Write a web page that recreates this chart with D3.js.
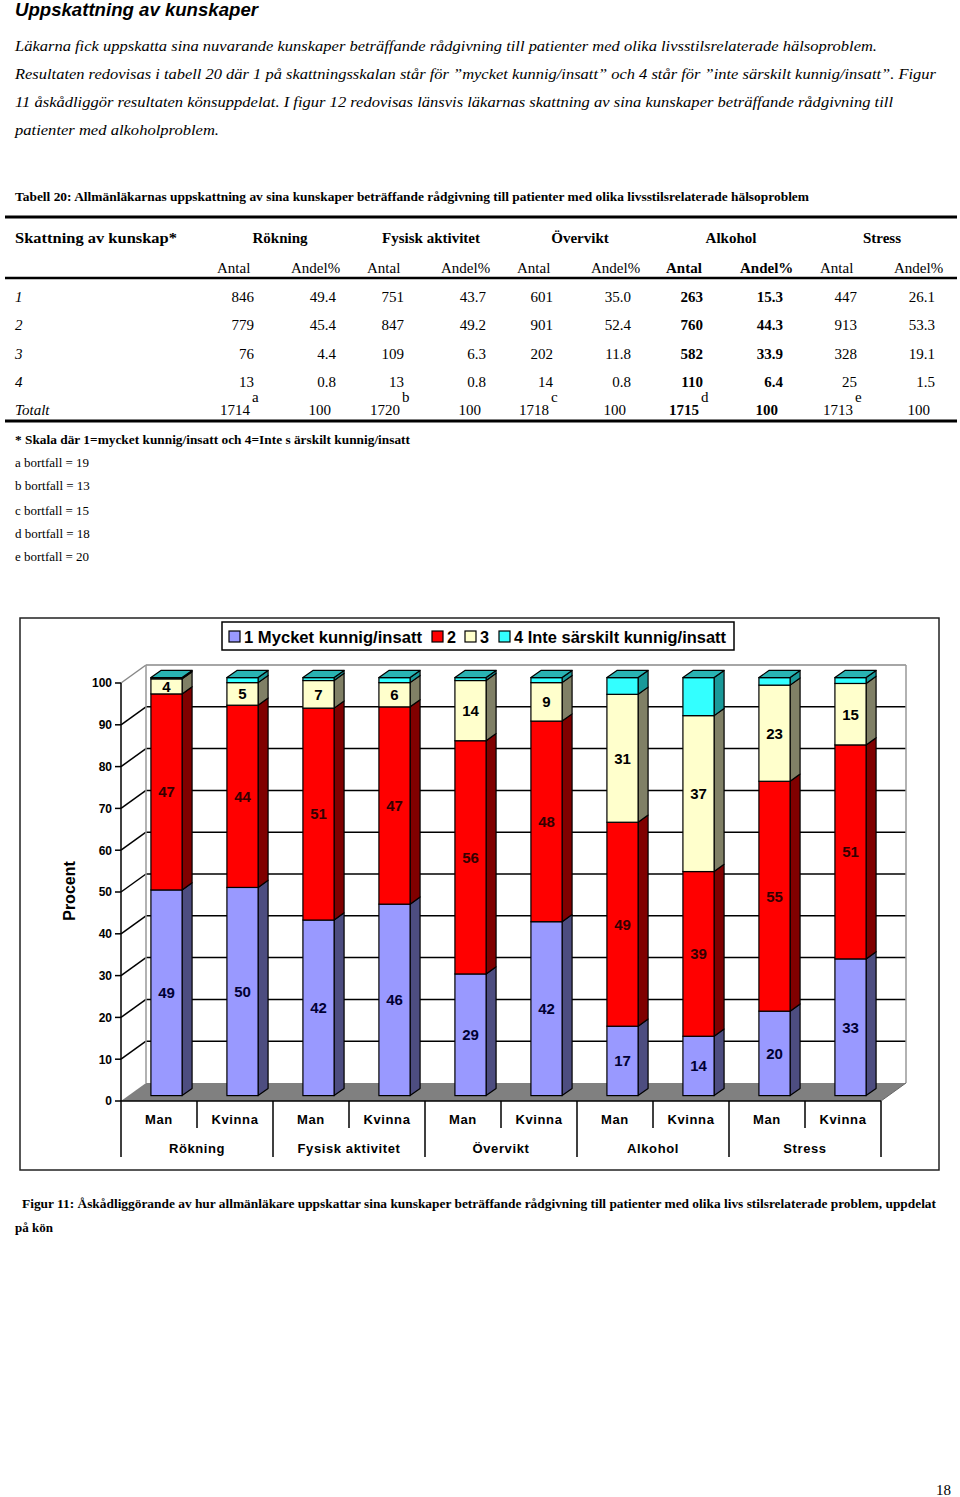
<!DOCTYPE html>
<html lang="sv">
<head>
<meta charset="UTF-8">
<title>Uppskattning av kunskaper</title>
<style>
  * { margin: 0; padding: 0; }
  body { background: #fff; }
  svg { display: block; }
  .serif { font-family: "Liberation Serif", "Times New Roman", serif; }
  .sans { font-family: "Liberation Sans", Arial, sans-serif; }
</style>
</head>
<body>
<script src="https://cdn.jsdelivr.net/npm/d3@7"></script>
<script>
// ---- data ----
var groups = ['Rökning', 'Fysisk aktivitet', 'Övervikt', 'Alkohol', 'Stress'];
var sexes = ['Man', 'Kvinna'];
var seriesNames = ['1 Mycket kunnig/insatt', '2', '3', '4 Inte särskilt kunnig/insatt'];
// percent per bar: Rökning M, K, Fysisk M, K, Övervikt M, K, Alkohol M, K, Stress M, K
var level1 = [49.2, 49.8, 42.0, 45.8, 29.1, 41.6, 16.6, 14.2, 20.2, 32.7];
var level2 = [46.9, 43.6, 50.7, 47.2, 55.8, 48.0, 48.8, 39.4, 55.0, 51.2];
var level3 = [3.6, 5.4, 6.6, 5.8, 14.4, 9.2, 30.6, 37.3, 23.0, 14.7];
var level4 = [0.3, 1.2, 0.7, 1.2, 0.7, 1.2, 4.0, 9.1, 1.8, 1.4];
var yTicks = [0, 10, 20, 30, 40, 50, 60, 70, 80, 90, 100];

// table 20
var antal = [[846, 779, 76, 13], [751, 847, 109, 13], [601, 901, 202, 14], [263, 760, 582, 110], [447, 913, 328, 25]];
var andel = [[49.4, 45.4, 4.4, 0.8], [43.7, 49.2, 6.3, 0.8], [35.0, 52.4, 11.8, 0.8], [15.3, 44.3, 33.9, 6.4], [26.1, 53.3, 19.1, 1.5]];
var totals = [1714, 1720, 1718, 1715, 1713];
var noteLetters = ['a', 'b', 'c', 'd', 'e'];
var bortfall = [19, 13, 15, 18, 20];
var rowLabels = ['1', '2', '3', '4', 'Totalt'];

var W = 960, H = 1497;
var svg = d3.select('body').append('svg').attr('width', W).attr('height', H);
svg.append('rect').attr('width', W).attr('height', H).attr('fill', '#fff');

function txt(x, y, s, o) {
  o = o || {};
  var t = svg.append('text').attr('x', x).attr('y', y).text(s)
    .attr('class', o.sans ? 'sans' : 'serif')
    .attr('font-size', o.size || 15)
    .attr('fill', o.fill || '#000');
  if (o.bold) t.attr('font-weight', 'bold');
  if (o.italic) t.attr('font-style', 'italic');
  if (o.anchor) t.attr('text-anchor', o.anchor);
  if (o.len) t.attr('textLength', o.len).attr('lengthAdjust', 'spacingAndGlyphs');
  return t;
}

// ---- text above ----
txt(15, 16, 'Uppskattning av kunskaper', {sans: true, bold: true, italic: true, size: 18, len: 243});
txt(15, 51, 'Läkarna fick uppskatta sina nuvarande kunskaper beträffande rådgivning till patienter med olika livsstilsrelaterade hälsoproblem.', {italic: true, len: 862});
txt(15, 79, 'Resultaten redovisas i tabell 20 där 1 på skattningsskalan står för ”mycket kunnig/insatt” och 4 står för ”inte särskilt kunnig/insatt”. Figur', {italic: true, len: 921});
txt(15, 107, '11 åskådliggör resultaten könsuppdelat. I figur 12 redovisas länsvis läkarnas skattning av sina kunskaper beträffande rådgivning till', {italic: true, len: 878});
txt(15, 135, 'patienter med alkoholproblem.', {italic: true, len: 204});

// ---- table ----
txt(15, 201, 'Tabell 20: Allmänläkarnas uppskattning av sina kunskaper beträffande rådgivning till patienter med olika livsstilsrelaterade hälsoproblem', {bold: true, size: 13, len: 794});
svg.append('line').attr('x1', 5).attr('x2', 957).attr('y1', 217).attr('y2', 217).attr('stroke', '#000').attr('stroke-width', 3);
svg.append('line').attr('x1', 5).attr('x2', 957).attr('y1', 278).attr('y2', 278).attr('stroke', '#000').attr('stroke-width', 2.5);
svg.append('line').attr('x1', 5).attr('x2', 957).attr('y1', 421).attr('y2', 421).attr('stroke', '#000').attr('stroke-width', 3);

var groupCenters = [280, 431, 580, 731, 882];
var antalLeft = [217, 367, 517, 666, 820];
var andelLeft = [291, 441, 591, 740, 894];
var antalRight = [254, 404, 553, 703, 857];
var andelRight = [336, 486, 631, 783, 935];
var rowBase = [302, 330, 359, 387, 415];

txt(15, 243, 'Skattning av kunskap*', {bold: true, len: 162});
groups.forEach(function (g, i) {
  txt(groupCenters[i], 243, g, {bold: true, anchor: 'middle'});
  var b = i === 3;
  txt(antalLeft[i], 273, 'Antal', {bold: b});
  txt(andelLeft[i], 273, 'Andel%', {bold: b});
});
rowLabels.forEach(function (r, j) {
  txt(15, rowBase[j], r, {italic: true});
});
groups.forEach(function (g, i) {
  var b = i === 3;
  for (var j = 0; j < 4; j++) {
    txt(antalRight[i], rowBase[j], antal[i][j], {anchor: 'end', bold: b});
    txt(andelRight[i], rowBase[j], andel[i][j].toFixed(1), {anchor: 'end', bold: b});
  }
  txt(antalRight[i] - 4, rowBase[4], totals[i], {anchor: 'end', bold: b});
  txt(antalRight[i] - 2, 402, noteLetters[i], {});
  txt(andelRight[i] - 5, rowBase[4], 100, {anchor: 'end', bold: b});
});

txt(15, 444, '* Skala där 1=mycket kunnig/insatt och 4=Inte s ärskilt kunnig/insatt', {bold: true, size: 13, len: 395});
noteLetters.forEach(function (l, i) {
  txt(15, [467, 490, 515, 538, 561][i], l + ' bortfall = ' + bortfall[i], {size: 13});
});

// ---- chart ----
svg.append('rect').attr('x', 20).attr('y', 618).attr('width', 919).attr('height', 552)
  .attr('fill', 'none').attr('stroke', '#222').attr('stroke-width', 1.5);

var x = d3.scaleBand().domain(d3.range(10)).range([121, 881]);
var y = d3.scaleLinear().domain([0, 100]).range([1101, 683]);
var DX = 25, DY = -18;          // full depth offset
var z0 = 0.3, z1 = 0.7;         // bar depth
var hw = x.bandwidth() * 0.205; // half bar width
var x0 = x.range()[0], x1 = x.range()[1];

var chart = svg.append('g');

// floor
chart.append('polygon')
  .attr('points', [[x0, y(0)], [x1, y(0)], [x1 + DX, y(0) + DY], [x0 + DX, y(0) + DY]].join(' '))
  .attr('fill', '#808080');
// back wall gridlines
yTicks.forEach(function (v) {
  if (v === 0) return;
  var c = v === 100 ? '#888' : '#000';
  chart.append('line').attr('x1', x0 + DX).attr('x2', x1 + DX)
    .attr('y1', y(v) + DY).attr('y2', y(v) + DY).attr('stroke', c).attr('stroke-width', 1.5);
  chart.append('line').attr('x1', x0).attr('x2', x0 + DX)
    .attr('y1', y(v)).attr('y2', y(v) + DY).attr('stroke', c).attr('stroke-width', 1.5);
});
chart.append('line').attr('x1', x0 + DX).attr('x2', x0 + DX).attr('y1', y(100) + DY).attr('y2', y(0) + DY)
  .attr('stroke', '#999').attr('stroke-width', 1.5);
chart.append('line').attr('x1', x1 + DX).attr('x2', x1 + DX).attr('y1', y(100) + DY).attr('y2', y(0) + DY)
  .attr('stroke', '#999').attr('stroke-width', 1.5);

// bars
var rows = d3.range(10).map(function (i) {
  return {i: i, a: level1[i], b: level2[i], c: level3[i], d: level4[i]};
});
var keys = ['a', 'b', 'c', 'd'];
var stacked = d3.stack().keys(keys)(rows);
var front = ['#9999ff', '#ff0000', '#ffffcc', '#33ffff'];
var side = ['#4d4d80', '#800000', '#808066', '#1a9999'];
var labelFill = ['#000033', '#330000', '#000', '#000'];
var topFill = '#29b3b3';

d3.range(10).forEach(function (i) {
  var cx = x(i) + x.bandwidth() / 2;
  var xl = cx - hw + z0 * DX, xr = cx + hw + z0 * DX;
  var ox = (z1 - z0) * DX, oy = (z1 - z0) * DY;
  var g = chart.append('g');
  stacked.forEach(function (s, k) {
    var seg = s[i];
    var yb = y(seg[0]) + z0 * DY, yt = y(seg[1]) + z0 * DY;
    g.append('polygon')
      .attr('points', [[xr, yt], [xr + ox, yt + oy], [xr + ox, yb + oy], [xr, yb]].join(' '))
      .attr('fill', side[k]).attr('stroke', '#000').attr('stroke-width', 1.2).attr('stroke-linejoin', 'round');
    g.append('rect').attr('x', xl).attr('y', yt).attr('width', xr - xl).attr('height', yb - yt)
      .attr('fill', front[k]).attr('stroke', '#000').attr('stroke-width', 1.2);
    if (k === stacked.length - 1) {
      g.append('polygon')
        .attr('points', [[xl, yt], [xr, yt], [xr + ox, yt + oy], [xl + ox, yt + oy]].join(' '))
        .attr('fill', topFill).attr('stroke', '#000').attr('stroke-width', 1.2).attr('stroke-linejoin', 'round');
    }
    if (k < 3) {
      g.append('text').attr('class', 'sans').attr('x', (xl + xr) / 2).attr('y', (yt + yb) / 2)
        .attr('dy', '0.36em').attr('text-anchor', 'middle').attr('font-size', 15).attr('font-weight', 'bold')
        .attr('fill', labelFill[k]).text(Math.round(seg[1] - seg[0]));
    }
  });
});

// front axes
chart.append('line').attr('x1', x0).attr('x2', x0).attr('y1', y(100)).attr('y2', 1157).attr('stroke', '#000').attr('stroke-width', 1.5);
chart.append('line').attr('x1', x0).attr('x2', x1).attr('y1', y(0)).attr('y2', y(0)).attr('stroke', '#000').attr('stroke-width', 1.5);
yTicks.forEach(function (v) {
  chart.append('line').attr('x1', x0 - 6).attr('x2', x0).attr('y1', y(v)).attr('y2', y(v)).attr('stroke', '#000').attr('stroke-width', 1.5);
  chart.append('text').attr('class', 'sans').attr('x', x0 - 9).attr('y', y(v)).attr('dy', '0.36em')
    .attr('text-anchor', 'end').attr('font-size', 12).attr('font-weight', 'bold').text(v);
});

// category axis table
d3.range(10).forEach(function (i) {
  chart.append('text').attr('class', 'sans').attr('x', x(i) + x.bandwidth() / 2).attr('y', 1124)
    .attr('text-anchor', 'middle').attr('font-size', 13).attr('font-weight', 'bold')
    .attr('letter-spacing', 0.6).text(sexes[i % 2]);
  var lineEnd = (i % 2 === 0) ? 1128 : 1157;
  chart.append('line').attr('x1', x(i) + x.bandwidth()).attr('x2', x(i) + x.bandwidth())
    .attr('y1', y(0)).attr('y2', lineEnd).attr('stroke', '#000').attr('stroke-width', 1.5);
});
groups.forEach(function (gname, j) {
  chart.append('text').attr('class', 'sans').attr('x', x(2 * j) + x.bandwidth()).attr('y', 1153)
    .attr('text-anchor', 'middle').attr('font-size', 13).attr('font-weight', 'bold')
    .attr('letter-spacing', 0.6).text(gname);
});
chart.append('line').attr('x1', x1).attr('x2', x1 + DX).attr('y1', y(0)).attr('y2', y(0) + DY).attr('stroke', '#666').attr('stroke-width', 1);

// y title
chart.append('text').attr('class', 'sans').attr('transform', 'translate(75,891) rotate(-90)')
  .attr('text-anchor', 'middle').attr('font-size', 16).attr('font-weight', 'bold').text('Procent');

// legend
var leg = chart.append('g');
leg.append('rect').attr('x', 222).attr('y', 622).attr('width', 512).attr('height', 28)
  .attr('fill', '#fff').attr('stroke', '#000').attr('stroke-width', 1.5);
var legX = [229, 432, 465, 499];
var legLen = [178, 9, 9, 212];
seriesNames.forEach(function (n, k) {
  leg.append('rect').attr('x', legX[k]).attr('y', 631).attr('width', 11).attr('height', 11)
    .attr('fill', front[k]).attr('stroke', '#000').attr('stroke-width', 1.2);
  leg.append('text').attr('class', 'sans').attr('x', legX[k] + 15).attr('y', 643)
    .attr('font-size', 16).attr('font-weight', 'bold')
    .attr('textLength', legLen[k]).attr('lengthAdjust', 'spacingAndGlyphs').text(n);
});

// ---- caption & page number ----
txt(22, 1208, 'Figur 11: Åskådliggörande av hur allmänläkare uppskattar sina kunskaper beträffande rådgivning till patienter med olika livs stilsrelaterade problem, uppdelat', {bold: true, size: 13, len: 914});
txt(15, 1232, 'på kön', {bold: true, size: 13});
txt(951, 1495, '18', {anchor: 'end'});
</script>
</body>
</html>
